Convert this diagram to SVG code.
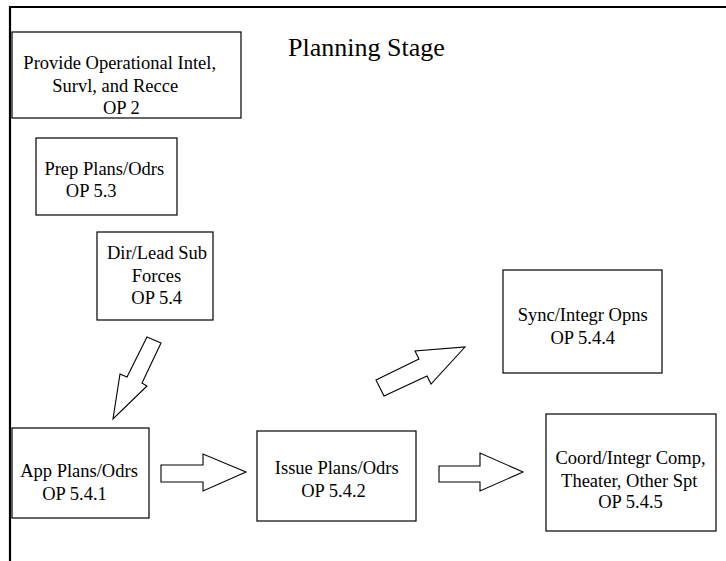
<svg xmlns="http://www.w3.org/2000/svg" width="726" height="561" viewBox="0 0 726 561">
  <style>
    .box { fill: #ffffff; stroke: #000000; stroke-width: 1.2; }
    .frame { stroke: #000000; stroke-width: 2.2; fill: none; }
    .arrow { fill: #ffffff; stroke: #000000; stroke-width: 1.1; stroke-linejoin: miter; }
    .lbl { font-size: 18.5px; fill: #000000; text-anchor: middle; }
    .title { font-size: 26px; fill: #000000; }
  </style>
  <rect width="726" height="561" fill="#ffffff"/>

  <!-- page frame -->
  <g id="frame">
    <line class="frame" x1="9" y1="7" x2="726" y2="7"/>
    <line class="frame" x1="10" y1="6" x2="10" y2="561"/>
  </g>

  <g font-family="'Liberation Serif', 'Times New Roman', Times, 'DejaVu Serif', serif">
  <text class="title" x="288" y="56">Planning Stage</text>

  <g id="op2">
    <rect class="box" x="12" y="32" width="229" height="86"/>
    <text class="lbl" x="119.7" y="69">Provide Operational Intel,</text>
    <text class="lbl" x="115.2" y="91.5">Survl, and Recce</text>
    <text class="lbl" x="121.3" y="114">OP 2</text>
  </g>

  <g id="op5-3">
    <rect class="box" x="36" y="138" width="141" height="77"/>
    <text class="lbl" x="104.3" y="175">Prep Plans/Odrs</text>
    <text class="lbl" x="91.2" y="197">OP 5.3</text>
  </g>

  <g id="op5-4">
    <rect class="box" x="97" y="232" width="116" height="88"/>
    <text class="lbl" x="157" y="259">Dir/Lead Sub</text>
    <text class="lbl" x="156.5" y="281.5">Forces</text>
    <text class="lbl" x="156.7" y="303.5">OP 5.4</text>
  </g>

  <g id="op5-4-4">
    <rect class="box" x="503" y="270" width="159" height="103"/>
    <text class="lbl" x="582.7" y="321">Sync/Integr Opns</text>
    <text class="lbl" x="582.8" y="343.5">OP 5.4.4</text>
  </g>

  <g id="op5-4-1">
    <rect class="box" x="12" y="428" width="137" height="90"/>
    <text class="lbl" x="79" y="477">App Plans/Odrs</text>
    <text class="lbl" x="74.5" y="499.5">OP 5.4.1</text>
  </g>

  <g id="op5-4-2">
    <rect class="box" x="257" y="431" width="159" height="90"/>
    <text class="lbl" x="336.7" y="474">Issue Plans/Odrs</text>
    <text class="lbl" x="333.5" y="497">OP 5.4.2</text>
  </g>

  <g id="op5-4-5">
    <rect class="box" x="546" y="414" width="170" height="117"/>
    <text class="lbl" x="630.5" y="464">Coord/Integr Comp,</text>
    <text class="lbl" x="629.3" y="486.5">Theater, Other Spt</text>
    <text class="lbl" x="630.5" y="507.5">OP 5.4.5</text>
  </g>
  </g>

  <!-- block arrows between the tasks -->
  <g id="connectors">
    <polygon class="arrow" points="147,337 161,343 142,383 147,386 113,419 120,374 127,377"/>
    <polygon class="arrow" points="376,380 419,359 415,351 465,347 431,384 427,376 384,396"/>
    <polygon class="arrow" points="161,465 203,465 203,454 246,472 203,491 203,482 161,482"/>
    <polygon class="arrow" points="439,466 480,466 480,453 523,472 480,491 480,482 439,482"/>
  </g>
</svg>
